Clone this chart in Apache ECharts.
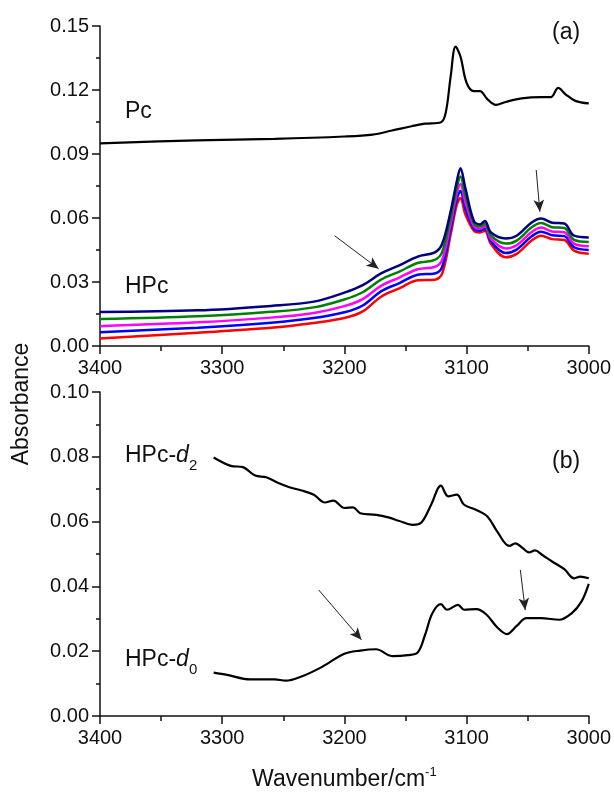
<!DOCTYPE html>
<html>
  <head>
    <meta charset="utf-8" />
    <title>Absorbance spectra</title>
    <script src="https://cdn.jsdelivr.net/npm/echarts@6/dist/echarts.min.js"></script>
  </head>
  <body style="margin: 0">
    <div id="main" style="width: 614px; height: 796px"></div>

    <script>
      // panel (a): Pc
      var pcX = [3400, 3321, 3257, 3200, 3177, 3161, 3145, 3134, 3121, 3117, 3113, 3109, 3105, 3100, 3094, 3089, 3083, 3076, 3068, 3055, 3039, 3031, 3025, 3019, 3011, 3000];
      var pcY = [0.0950, 0.0964, 0.0971, 0.0982, 0.0991, 0.1010, 0.1030, 0.1042, 0.1049, 0.1095, 0.1264, 0.1403, 0.1357, 0.1234, 0.1195, 0.1195, 0.1157, 0.1130, 0.1144, 0.1161, 0.1167, 0.1167, 0.1210, 0.1180, 0.1149, 0.1137];

      // panel (a): HPc, five spectra
      var hpcX = [3400, 3320, 3260, 3225, 3200, 3185, 3170, 3155, 3140, 3126, 3120, 3113, 3108, 3105, 3101, 3094, 3089, 3085, 3080, 3068, 3059, 3047, 3039, 3030, 3020, 3012, 3000];
      var hpcNavy = [0.0159, 0.0167, 0.0188, 0.0208, 0.0250, 0.0285, 0.0340, 0.0378, 0.0419, 0.0439, 0.0478, 0.0632, 0.0771, 0.0833, 0.0740, 0.0586, 0.0570, 0.0586, 0.0532, 0.0504, 0.0517, 0.0578, 0.0598, 0.0578, 0.0574, 0.0517, 0.0509];
      var hpcGreen = [0.0126, 0.0139, 0.0160, 0.0181, 0.0218, 0.0252, 0.0311, 0.0349, 0.0389, 0.0404, 0.0440, 0.0603, 0.0742, 0.0795, 0.0707, 0.0574, 0.0560, 0.0574, 0.0517, 0.0480, 0.0494, 0.0555, 0.0576, 0.0557, 0.0553, 0.0498, 0.0488];
      var hpcMagenta = [0.0093, 0.0111, 0.0133, 0.0155, 0.0187, 0.0220, 0.0282, 0.0321, 0.0360, 0.0371, 0.0404, 0.0575, 0.0714, 0.0759, 0.0675, 0.0562, 0.0550, 0.0562, 0.0503, 0.0457, 0.0472, 0.0533, 0.0555, 0.0537, 0.0533, 0.0480, 0.0468];
      var hpcBlue = [0.0064, 0.0086, 0.0109, 0.0131, 0.0158, 0.0190, 0.0256, 0.0295, 0.0334, 0.0340, 0.0371, 0.0549, 0.0688, 0.0726, 0.0645, 0.0551, 0.0541, 0.0551, 0.0490, 0.0436, 0.0452, 0.0513, 0.0536, 0.0519, 0.0515, 0.0463, 0.0450];
      var hpcRed = [0.0035, 0.0062, 0.0085, 0.0108, 0.0131, 0.0162, 0.0231, 0.0270, 0.0308, 0.0311, 0.0339, 0.0524, 0.0663, 0.0694, 0.0617, 0.0540, 0.0532, 0.0540, 0.0478, 0.0416, 0.0432, 0.0493, 0.0517, 0.0501, 0.0497, 0.0447, 0.0432];

      // panel (b): HPc-d2
      var d2X = [3307, 3293, 3283, 3273, 3264, 3254, 3245, 3235, 3225, 3216, 3209, 3200, 3193, 3187, 3174, 3164, 3155, 3144, 3137, 3129, 3121, 3115, 3108, 3102, 3092, 3083, 3075, 3065, 3060, 3054, 3049, 3044, 3038, 3030, 3020, 3012, 3007, 3000];
      var d2Y = [0.0798, 0.0772, 0.0768, 0.0742, 0.0737, 0.0719, 0.0706, 0.0696, 0.0683, 0.0659, 0.0665, 0.0642, 0.0644, 0.0626, 0.0621, 0.0613, 0.0602, 0.0590, 0.0597, 0.0652, 0.0711, 0.0678, 0.0683, 0.0652, 0.0636, 0.0616, 0.0570, 0.0525, 0.0533, 0.0518, 0.0505, 0.0511, 0.0497, 0.0477, 0.0453, 0.0425, 0.0430, 0.0425];

      // panel (b): HPc-d0
      var d0X = [3307, 3296, 3277, 3257, 3248, 3235, 3219, 3200, 3187, 3174, 3161, 3148, 3140, 3134, 3128, 3121, 3116, 3107, 3102, 3092, 3084, 3075, 3067, 3059, 3051, 3039, 3024, 3014, 3006, 3000];
      var d0Y = [0.0134, 0.0127, 0.0113, 0.0113, 0.0109, 0.0122, 0.0150, 0.0192, 0.0202, 0.0206, 0.0185, 0.0188, 0.0196, 0.0250, 0.0317, 0.0345, 0.0328, 0.0343, 0.0328, 0.0330, 0.0314, 0.0274, 0.0253, 0.0278, 0.0302, 0.0302, 0.0297, 0.0317, 0.0353, 0.0408];

      // arrows [x0, y0, x1, y1]
      var arrowsA = [[3208, 0.0517, 3172, 0.0362], [3043, 0.0825, 3040, 0.0629]];
      var arrowsB = [[3221, 0.0389, 3186, 0.0235], [3056, 0.0451, 3052, 0.0327]];

      var font = "Liberation Sans, Arial, sans-serif";

      function zip(xs, ys) {
        return xs.map(function (x, i) {
          return [x, ys[i]];
        });
      }

      function arrowLines(list) {
        return list.map(function (a) {
          return [{ coord: [a[0], a[1]] }, { coord: [a[2], a[3]] }];
        });
      }

      function xAxisOf(idx, name) {
        return {
          type: "value",
          gridIndex: idx,
          min: 3000,
          max: 3400,
          interval: 100,
          inverse: true,
          name: name,
          nameLocation: "middle",
          nameGap: 50,
          nameTextStyle: {
            fontFamily: font,
            fontSize: 23,
            color: "#111",
            rich: {
              a: { fontFamily: font, fontSize: 23, color: "#111" },
              b: { fontFamily: font, fontSize: 13, color: "#111", padding: [0, 0, 14, 0] },
            },
          },
          axisLine: { show: true, lineStyle: { color: "#111", width: 1.5 } },
          axisTick: { show: true, length: 8, lineStyle: { color: "#111", width: 1.5 } },
          minorTick: { show: true, splitNumber: 2, length: 5, lineStyle: { color: "#111", width: 1.5 } },
          axisLabel: {
            fontFamily: font,
            fontSize: 20,
            color: "#111",
            margin: 12,
            formatter: function (v) {
              return String(v);
            },
          },
          splitLine: { show: false },
        };
      }

      function yAxisOf(idx, max, step) {
        return {
          type: "value",
          gridIndex: idx,
          min: 0,
          max: max,
          interval: step,
          axisLine: { show: true, lineStyle: { color: "#111", width: 1.5 } },
          axisTick: { show: true, length: 8, lineStyle: { color: "#111", width: 1.5 } },
          minorTick: { show: true, splitNumber: 2, length: 4, lineStyle: { color: "#111", width: 1.5 } },
          axisLabel: {
            fontFamily: font,
            fontSize: 20,
            color: "#111",
            margin: 11,
            formatter: function (v) {
              return v.toFixed(2);
            },
          },
          splitLine: { show: false },
        };
      }

      function lineSeries(idx, data, color, width) {
        return {
          type: "line",
          xAxisIndex: idx,
          yAxisIndex: idx,
          data: data,
          showSymbol: false,
          symbol: "none",
          smooth: 0.35,
          lineStyle: { color: color, width: width },
          z: 3,
        };
      }

      function arrowSeries(idx, list) {
        return {
          type: "line",
          xAxisIndex: idx,
          yAxisIndex: idx,
          data: [],
          markLine: {
            silent: true,
            symbol: ["none", "arrow"],
            symbolSize: [8, 12],
            label: { show: false },
            lineStyle: { color: "#222", width: 1, type: "solid" },
            data: arrowLines(list),
          },
        };
      }

      function text(x, y, str, size, italic) {
        return {
          type: "text",
          x: x,
          y: y,
          style: {
            text: str,
            fontFamily: font,
            fontSize: size,
            fontStyle: italic ? "italic" : "normal",
            fill: "#111",
            verticalAlign: "middle",
          },
          z: 10,
        };
      }

      var myChart = echarts.init(document.getElementById("main"));

      var option = {
        animation: false,
        backgroundColor: "#fff",
        grid: [
          { left: 100, top: 26, width: 489, height: 320 },
          { left: 100, top: 392, width: 489, height: 324 },
        ],
        xAxis: [xAxisOf(0, ""), xAxisOf(1, "{a|Wavenumber/cm}{b|-1}")],
        yAxis: [yAxisOf(0, 0.15, 0.03), yAxisOf(1, 0.1, 0.02)],
        series: [
          lineSeries(0, zip(pcX, pcY), "#000", 2.2),
          lineSeries(0, zip(hpcX, hpcRed), "#ff0000", 2.5),
          lineSeries(0, zip(hpcX, hpcBlue), "#0000ff", 2.5),
          lineSeries(0, zip(hpcX, hpcMagenta), "#ff00ff", 2.5),
          lineSeries(0, zip(hpcX, hpcGreen), "#008000", 2.5),
          lineSeries(0, zip(hpcX, hpcNavy), "#000080", 2.5),
          lineSeries(1, zip(d2X, d2Y), "#000", 2.2),
          lineSeries(1, zip(d0X, d0Y), "#000", 2.2),
          arrowSeries(0, arrowsA),
          arrowSeries(1, arrowsB),
        ],
        graphic: [
          {
            type: "text",
            x: 22,
            y: 404,
            rotation: Math.PI / 2,
            style: {
              text: "Absorbance",
              fontFamily: font,
              fontSize: 23,
              fill: "#111",
              align: "center",
              verticalAlign: "middle",
            },
          },
          text(125, 112, "Pc", 23),
          text(125, 287, "HPc", 23),
          text(552, 33, "(a)", 23),
          text(552, 462, "(b)", 23),
          text(125, 456, "HPc-", 23),
          text(176, 456, "d", 23, true),
          text(189, 466, "2", 15),
          text(125, 660, "HPc-", 23),
          text(176, 660, "d", 23, true),
          text(189, 670, "0", 15),
        ],
      };

      myChart.setOption(option);
    </script>
  </body>
</html>
